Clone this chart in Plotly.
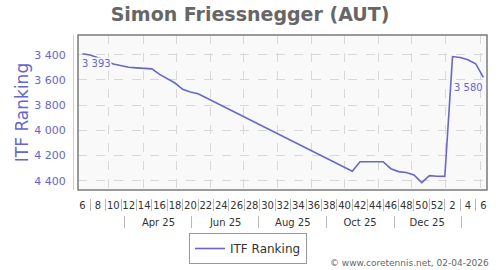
import datetime as dt
import plotly.graph_objects as go

# ---- data ----
player = "Simon Friessnegger (AUT)"
series_name = "ITF Ranking"
# sequential week index: 6..52 = 2025 weeks, 53.. = 2026 weeks 1..
week_index = [6, 7, 8, 9, 10, 11, 12, 13, 14, 15, 16, 17, 18, 19, 20, 21,
              41, 42, 43, 44, 45, 46, 47, 48, 49, 50, 51, 52, 53, 54, 55, 56, 57, 58]
ranking = [3393, 3402, 3425, 3445, 3474, 3490, 3500, 3505, 3508, 3513, 3557, 3590, 3625, 3675, 3697, 3710,
           4325, 4250, 4250, 4255, 4250, 4305, 4328, 4335, 4355, 4415, 4360, 4365, 4366, 3415, 3423, 3440, 3472, 3580]
week_tick_index = list(range(6, 59, 2))
week_tick_text = [str(w if w <= 52 else w - 52) for w in week_tick_index]
month_labels = ["Apr 25", "Jun 25", "Aug 25", "Oct 25", "Dec 25"]
y_ticks = [3400, 3600, 3800, 4000, 4200, 4400]
footer = "© www.coretennis.net, 02-04-2026"

BLUE = "#6666cc"
REF = dt.date(2025, 2, 5)


def widx(d):
    return 6 + (d - REF).days / 7.0


grid_dates = [dt.date(2025, m, 1) for m in range(3, 13)] + [dt.date(2026, 1, 1), dt.date(2026, 2, 1)]
grid_x = [widx(d) for d in grid_dates]
month_sep_x = [widx(d) for d in [dt.date(2025, 3, 15), dt.date(2025, 5, 15), dt.date(2025, 7, 15),
                                 dt.date(2025, 9, 15), dt.date(2025, 11, 15), dt.date(2026, 1, 15)]]
month_lab_x = [widx(d) for d in [dt.date(2025, 4, 15), dt.date(2025, 6, 15), dt.date(2025, 8, 15),
                                 dt.date(2025, 10, 15), dt.date(2025, 12, 15)]]
week_sep_x = list(range(7, 58, 2))

XR = [5.42, 58.47]
YR = [4474, 3244]


def fmt(v):
    return f"{v:,}".replace(",", " ")


fig = go.Figure()
fig.add_trace(go.Scatter(x=week_index, y=ranking, mode="lines", name=series_name,
                         line=dict(color=BLUE, width=1.6), hoverinfo="skip"))

H = 215.0  # plot paper height in px (between margins)


def pos(ypx):
    return (250 - ypx) / H


axis_common = dict(range=XR, showgrid=False, zeroline=False, showline=False, fixedrange=True, automargin=False)

fig.update_layout(
    width=500, height=270,
    margin=dict(l=73, r=13, t=35, b=20, autoexpand=False),
    paper_bgcolor="white",
    plot_bgcolor="#f9f9f9",
    separators=". ",
    font=dict(family="DejaVu Sans", size=11, color="#333"),
    title=dict(text=f"<b>{player}</b>", x=0.5, xanchor="center", y=1 - 14 / 270, yanchor="middle",
               font=dict(family="DejaVu Sans", size=19, color="#666")),
    showlegend=True,
    legend=dict(x=(248 - 73) / 414, xanchor="center", yref="container", y=1 - 233 / 270, yanchor="top",
                bgcolor="white", bordercolor="#999", borderwidth=1,
                font=dict(family="DejaVu Sans", size=12, color="#333"),
                itemwidth=30, tracegroupgap=0),
    xaxis=dict(domain=[5 / 414, 1], tickvals=grid_x, showticklabels=False, ticks="",
               showgrid=True, gridcolor="#d8d8d8", griddash="dash", gridwidth=1,
               **{k: v for k, v in axis_common.items() if k != "showgrid"}),
    xaxis2=dict(overlaying="x", anchor="free", position=pos(197.5), side="bottom",
                tickmode="array", tickvals=week_tick_index, ticktext=week_tick_text,
                ticks="", tickfont=dict(family="DejaVu Sans", size=10, color="#333"), **axis_common),
    xaxis3=dict(overlaying="x", anchor="free", position=pos(198), side="bottom",
                tickmode="array", tickvals=week_sep_x, showticklabels=False,
                ticks="outside", ticklen=12, tickcolor="#b8b8b8", tickwidth=1, **axis_common),
    xaxis4=dict(overlaying="x", anchor="free", position=pos(215), side="bottom",
                tickmode="array", tickvals=month_lab_x, ticktext=month_labels,
                ticks="", tickfont=dict(family="DejaVu Sans", size=10, color="#333"), **axis_common),
    xaxis5=dict(overlaying="x", anchor="free", position=pos(215), side="bottom",
                tickmode="array", tickvals=month_sep_x, showticklabels=False,
                ticks="outside", ticklen=12, tickcolor="#b8b8b8", tickwidth=1, **axis_common),
    yaxis=dict(domain=[pos(190), 1], range=YR, anchor="free", position=0, automargin=False,
               tickvals=y_ticks, tickformat=",d",
               tickfont=dict(family="DejaVu Sans", size=11, color=BLUE),
               ticks="outside", ticklen=5, tickcolor="rgba(0,0,0,0)",
               showline=True, linecolor="#c8c8ec", linewidth=1,
               showgrid=True, gridcolor="#d8d8d8", griddash="dash", gridwidth=1,
               zeroline=False, fixedrange=True,
               title=dict(text=series_name, font=dict(family="DejaVu Sans", size=17, color=BLUE), standoff=0)),
)

# invisible helper traces to activate the extra axes
for ax in ["x2", "x3", "x4", "x5"]:
    fig.add_trace(go.Scatter(x=[None], y=[None], xaxis=ax, yaxis="y", showlegend=False, hoverinfo="skip"))

# frame around the plot area
fig.add_shape(type="rect", xref="x domain", yref="y domain", x0=0, x1=1, y0=0, y1=1,
              line=dict(color="#7a7a7a", width=1.5), layer="above")

# data labels for first and last points
fig.add_annotation(x=week_index[0], y=ranking[0], text=fmt(ranking[0]), showarrow=False,
                   xanchor="left", yanchor="top", xshift=-1, yshift=-3, bgcolor="#f9f9f9",
                   font=dict(family="DejaVu Sans", size=10, color=BLUE), borderpad=0)
fig.add_annotation(x=week_index[-1], y=ranking[-1], text=fmt(ranking[-1]), showarrow=False,
                   xanchor="right", yanchor="top", xshift=1, yshift=-4,
                   font=dict(family="DejaVu Sans", size=10, color=BLUE), borderpad=0)

fig.add_annotation(xref="paper", yref="paper", x=(491 - 73) / 414, y=pos(263), xanchor="right", yanchor="middle",
                   text=footer, showarrow=False, font=dict(family="DejaVu Sans", size=9, color="#666"))

fig.write_html("out.html")
